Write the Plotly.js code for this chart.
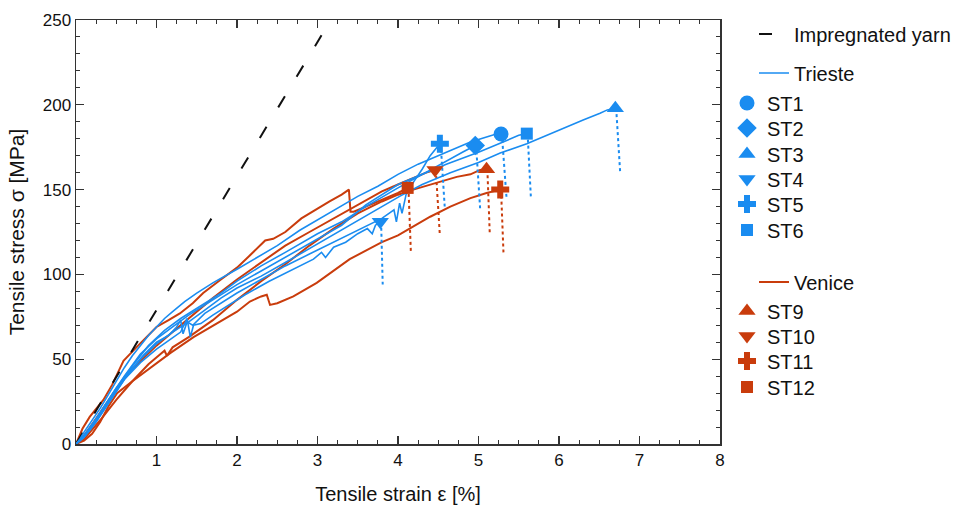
<!DOCTYPE html>
<html>
<head>
<meta charset="utf-8">
<script src="https://cdn.plot.ly/plotly-3.0.1.min.js"></script>
<style>html,body{margin:0;padding:0;background:#fff;}#chart{width:960px;height:512px;}</style>
</head>
<body>
<div id="chart"></div>
<script>
// ---- data (strain in %, stress in MPa) ----
const xTicks = [1, 2, 3, 4, 5, 6, 7, 8];
const yTicks = [0, 50, 100, 150, 200, 250];

const yarnX = [0, 3.05];
const yarnY = [0, 241];

// Trieste specimens
const st1X = [0,0.05,0.1,0.2,0.3,0.4,0.5,0.6,0.7,0.8,0.9,1.0,1.1,1.2,1.35,1.5,1.7,2.0,2.25,2.5,2.78,3.0,3.25,3.5,3.75,4.0,4.25,4.5,4.7,4.9,5.1,5.2,5.28];
const st1Y = [0,3,7,14,21,29,37,45,52,58,64,69,74,78,84,89,95,103,110,117,126,132,139,146,152,159,165,170,174,178,181,182.5,182.8];
const st2X = [0,0.1,0.2,0.35,0.5,0.7,0.9,1.1,1.3,1.5,1.8,2.0,2.3,2.6,3.0,3.3,3.6,4.0,4.3,4.6,4.8,4.96];
const st2Y = [0,4,10,22,33,46,58,67,74,80,89,96,105,113,124,131,140,151,159,167,172,176];
const st3X = [0,0.1,0.25,0.4,0.6,0.8,1.0,1.2,1.4,1.6,1.8,2.0,2.3,2.6,3.0,3.3,3.6,4.02,4.3,4.65,5.0,5.27,5.6,5.89,6.1,6.3,6.51,6.6,6.70];
const st3Y = [0,4,13,24,38,50,59,66,72,79,86,92,99,107,118,126,134,146,153,160,166,171.6,177,183,187,191,195,197,198];
const st4X = [0,0.1,0.2,0.4,0.6,0.8,1.0,1.15,1.3,1.38,1.42,1.46,1.55,1.7,1.9,2.1,2.4,2.7,2.95,3.05,3.1,3.2,3.35,3.5,3.62,3.68,3.72,3.78];
const st4Y = [0,4,10,24,38,48,56,61,66,74,63,70,71,76,82,88,96,103,109,113,110,116,119,124,127,124,129,131];
const st5X = [0,0.1,0.25,0.45,0.65,0.85,1.0,1.15,1.25,1.3,1.33,1.38,1.45,1.6,1.8,2.0,2.3,2.6,2.9,3.2,3.5,3.8,3.95,3.98,4.02,4.05,4.1,4.2,4.3,4.4,4.52];
const st5Y = [0,5,14,28,42,53,60,64,69,73,65,72,70,77,83,89,97,105,112,119,126,133,138,131,142,136,147,155,162,170,177];
const st6X = [0,0.1,0.25,0.4,0.6,0.8,1.0,1.2,1.4,1.7,2.0,2.3,2.6,3.0,3.3,3.6,4.0,4.3,4.6,5.0,5.2,5.39,5.5,5.6];
const st6Y = [0,5,15,26,40,53,62,69,76,85,94,102,110,121,129,141,153,159,165,172,176,180,182,183];

// Venice specimens
const st9X = [0,0.1,0.3,0.5,0.7,0.9,1.05,1.1,1.13,1.2,1.4,1.7,2.0,2.3,2.6,2.9,3.2,3.5,3.8,4.0,4.19,4.4,4.6,4.73,4.9,5.02,5.1];
const st9Y = [0,3,14,26,37,47,53,55,52,57,63,73,85,96,106,117,127,136,143,147,150,153,156,157.5,159,161.6,162];
const st10X = [0,0.1,0.25,0.45,0.65,0.85,1.0,1.2,1.45,1.7,2.0,2.3,2.6,2.9,3.2,3.5,3.8,4.0,4.2,4.35,4.46];
const st10Y = [0,5,15,29,42,51,58,66,76,86,97,107,117,125,133,141,149,153,157,160,161.5];
const st11X = [0,0.1,0.2,0.3,0.4,0.51,0.7,0.9,1.17,1.46,1.83,2.0,2.16,2.3,2.37,2.41,2.5,2.7,2.99,3.2,3.4,3.6,3.8,4.0,4.15,4.4,4.65,4.9,5.1,5.27];
const st11Y = [0,2,6,13,22,30,37,44,53.6,63,73,78,84,87,88,82,83,87,95,102,109,114,119,123,127,134,140,145,148,150];
const st12X = [0,0.08,0.17,0.25,0.34,0.45,0.59,0.75,0.9,1.0,1.15,1.29,1.45,1.58,1.8,2.0,2.2,2.35,2.45,2.6,2.8,3.0,3.15,3.3,3.36,3.39,3.41,3.45,3.6,3.8,4.0,4.12];
const st12Y = [0,9,16,21,26,35,49,57,64,69,73,77,83,89,97,104,113,120,121,125,133,139,143,147,149,150,137,137,140,144,148,151];

// post-failure dotted drops: [x start, x end], [y start, y end]
const st1DropX = [5.29, 5.35],  st1DropY = [182.8, 144];
const st2DropX = [4.97, 5.02],  st2DropY = [176, 139];
const st3DropX = [6.71, 6.76],  st3DropY = [198, 160];
const st4DropX = [3.79, 3.81],  st4DropY = [131, 94];
const st5DropX = [4.53, 4.58],  st5DropY = [177, 140];
const st6DropX = [5.61, 5.65],  st6DropY = [183, 146];
const st9DropX = [5.11, 5.14],  st9DropY = [162, 124];
const st10DropX = [4.47, 4.52], st10DropY = [161.5, 123];
const st11DropX = [5.28, 5.31], st11DropY = [150, 113];
const st12DropX = [4.13, 4.16], st12DropY = [151, 113];

// ---- styling ----
const BLUE = '#1a8cf0';
const RED = '#c93c0c';
const FONT = 'Liberation Sans, Arial, sans-serif';

const trieste = [
  {name:'ST1', x:st1X, y:st1Y, dx:st1DropX, dy:st1DropY, sym:'circle', size:15, row:104},
  {name:'ST2', x:st2X, y:st2Y, dx:st2DropX, dy:st2DropY, sym:'diamond', size:15, row:129},
  {name:'ST3', x:st3X, y:st3Y, dx:st3DropX, dy:st3DropY, sym:'triangle-up', size:15, row:155},
  {name:'ST4', x:st4X, y:st4Y, dx:st4DropX, dy:st4DropY, sym:'triangle-down', size:15, row:180},
  {name:'ST5', x:st5X, y:st5Y, dx:st5DropX, dy:st5DropY, sym:'cross', size:15, row:205},
  {name:'ST6', x:st6X, y:st6Y, dx:st6DropX, dy:st6DropY, sym:'square', size:12, row:231}
];
const venice = [
  {name:'ST9', x:st9X, y:st9Y, dx:st9DropX, dy:st9DropY, sym:'triangle-up', size:15, row:312},
  {name:'ST10', x:st10X, y:st10Y, dx:st10DropX, dy:st10DropY, sym:'triangle-down', size:15, row:337},
  {name:'ST11', x:st11X, y:st11Y, dx:st11DropX, dy:st11DropY, sym:'cross', size:15, row:362},
  {name:'ST12', x:st12X, y:st12Y, dx:st12DropX, dy:st12DropY, sym:'square', size:12, row:388}
];

const traces = [];
const layout = {
  width:960, height:512,
  paper_bgcolor:'#fff', plot_bgcolor:'#fff',
  margin:{l:76, r:240, t:20, b:68},
  font:{family:FONT, color:'#111'},
  showlegend:true
};

// one legend box per legend row so each row sits where the reference puts it
let legendCount = 0;
function newLegend(centerPx, isLine) {
  legendCount += 1;
  const key = legendCount === 1 ? 'legend' : 'legend' + legendCount;
  layout[key] = {
    xref:'container', yref:'container',
    x: (isLine ? 754 : 727) / 960, y: 1 - (centerPx - 20.5) / 512,
    xanchor:'left', yanchor:'top', bgcolor:'rgba(0,0,0,0)',
    font:{family:FONT, size:20, color:'#111'}, itemclick:false, itemdoubleclick:false
  };
  return key;
}

// dotted drops first (under curves)
function addDrops(group, color) {
  group.forEach(s => traces.push({
    x: s.dx, y: s.dy, mode:'lines', showlegend:false, hoverinfo:'skip',
    line:{color:color, width:2, dash:'dot'}
  }));
}
addDrops(trieste, BLUE);
addDrops(venice, RED);

// yarn
traces.push({
  x: yarnX, y: yarnY, mode:'lines', name:'Impregnated yarn', legend:newLegend(35, true),
  line:{color:'#111', width:2, dash:'13px,22.7px'}
});

// curves
const triLeg = newLegend(74, true);
trieste.forEach((s, i) => traces.push({
  x: s.x, y: s.y, mode:'lines', name: 'Trieste',
  showlegend: i === 0, legend: triLeg,
  line:{color:BLUE, width:1.6}
}));
trieste.forEach(s => traces.push({
  x:[s.x[s.x.length-1]], y:[s.y[s.y.length-1]], mode:'markers', name:s.name,
  legend:newLegend(s.row, false), marker:{symbol:s.sym, size:s.size, color:BLUE}
}));

const venLeg = newLegend(283, true);
venice.forEach((s, i) => traces.push({
  x: s.x, y: s.y, mode:'lines', name: 'Venice',
  showlegend: i === 0, legend: venLeg,
  line:{color:RED, width:2}
}));
venice.forEach(s => traces.push({
  x:[s.x[s.x.length-1]], y:[s.y[s.y.length-1]], mode:'markers', name:s.name,
  legend:newLegend(s.row, false), marker:{symbol:s.sym, size:s.size, color:RED}
}));

// draw venice curves beneath trieste curves: reorder so red lines come before blue lines
const order = traces.map((t, i) => ({t, i, k: (t.mode === 'lines' && t.line.color === RED && !t.line.dash) ? 0 : 1}));
order.sort((a, b) => (a.k - b.k) || (a.i - b.i));
const finalTraces = order.map(o => o.t);

const axisCommon = {
  showgrid:false, zeroline:false, showline:true, linecolor:'#333', linewidth:1.5,
  mirror:'allticks', ticks:'inside', ticklen:8, tickwidth:1.2, tickcolor:'#333',
  tickfont:{family:FONT, size:17, color:'#111'}
};

layout.xaxis = Object.assign({}, axisCommon, {
  range:[0,8], tickmode:'array', tickvals:xTicks, ticktext:xTicks.map(String),
  minor:{tick0:0, dtick:0.25, ticks:'inside', ticklen:4, tickcolor:'#333', tickwidth:1, showgrid:false},
  title:{text:'Tensile strain ε [%]', font:{family:FONT, size:20, color:'#111'}, standoff:18}
});
layout.yaxis = Object.assign({}, axisCommon, {
  range:[0,250], tickmode:'array', tickvals:yTicks, ticktext:yTicks.map(String),
  minor:{tick0:0, dtick:10, ticks:'inside', ticklen:4, tickcolor:'#333', tickwidth:1, showgrid:false},
  title:{text:'Tensile stress σ [MPa]', font:{family:FONT, size:21, color:'#111'}, standoff:12}
});

Plotly.newPlot('chart', finalTraces, layout, {staticPlot:true, displayModeBar:false});
</script>
</body>
</html>
